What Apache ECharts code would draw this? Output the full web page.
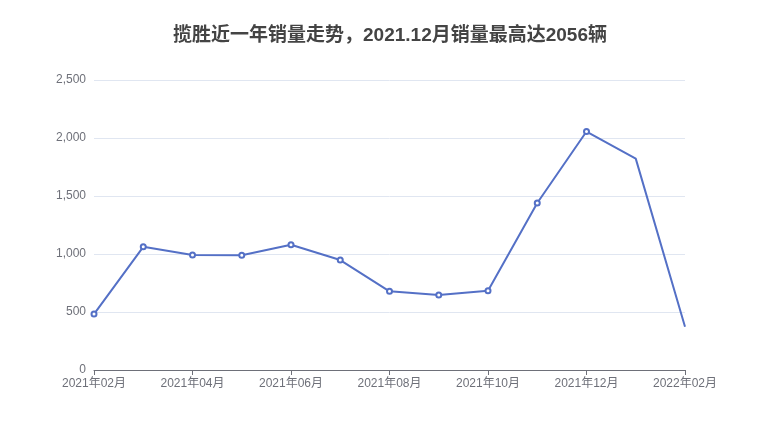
<!DOCTYPE html>
<html><head><meta charset="utf-8">
<script src="https://cdn.jsdelivr.net/npm/echarts@6/dist/echarts.min.js"></script>
<style>html,body{margin:0;padding:0;background:#fff}#c{width:780px;height:440px}</style>
</head><body><div id="c"></div>
<script>
const titleText = '揽胜近一年销量走势，2021.12月销量最高达2056辆';
const months = ['2021年02月','2021年03月','2021年04月','2021年05月','2021年06月','2021年07月','2021年08月','2021年09月','2021年10月','2021年11月','2021年12月','2022年01月','2022年02月'];
const sales = [482, 1062, 991, 989, 1080, 948, 678, 647, 684, 1440, 2056, 1822, 373];
const noSymbolIdx = [11, 12];

const chart = echarts.init(document.getElementById('c'), null, {renderer:'canvas'});
chart.setOption({
  animation: false,
  title: {
    text: titleText, left: 'center', top: 21,
    textStyle: {fontSize: 19, fontWeight: 'bold', color: '#444', fontFamily: 'Liberation Sans, Noto Sans CJK SC, sans-serif'}
  },
  grid: {left: 94, right: 95, top: 80, bottom: 70, containLabel: false},
  xAxis: {
    type: 'category', data: months, boundaryGap: false,
    axisLine: {lineStyle: {color: '#6E7079'}},
    axisTick: {interval: 1, lineStyle: {color: '#6E7079'}},
    axisLabel: {interval: 1, color: '#6E7079', fontSize: 12, margin: 8, fontFamily: 'Liberation Sans, Noto Sans CJK SC, sans-serif'}
  },
  yAxis: {
    type: 'value', min: 0, max: 2500, interval: 500,
    axisLabel: {color: '#6E7079', fontSize: 12, margin: 8, fontFamily: 'Liberation Sans, sans-serif',
      formatter: v => v.toLocaleString('en-US')},
    splitLine: {lineStyle: {color: '#E0E6F1'}}
  },
  series: [{
    type: 'line',
    data: sales.map((v, i) => noSymbolIdx.includes(i) ? {value: v, symbol: 'none'} : v),
    symbol: 'emptyCircle', symbolSize: 5, showAllSymbol: true,
    lineStyle: {color: '#5470c6', width: 2},
    itemStyle: {color: '#5470c6', borderWidth: 1.5}
  }]
});
</script></body></html>
